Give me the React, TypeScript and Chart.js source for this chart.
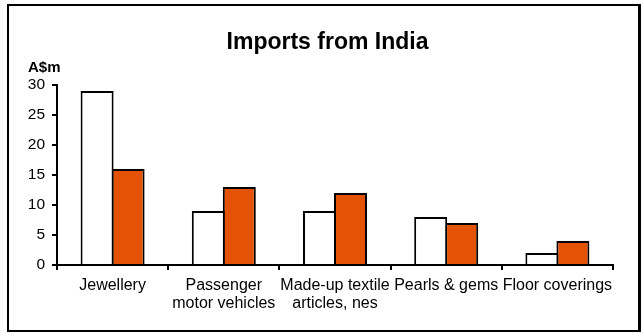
import React, { useEffect, useRef } from "react";
import { Chart, registerables } from "chart.js";

Chart.register(...registerables);

const categories: string[][] = [
  ["Jewellery"],
  ["Passenger", "motor vehicles"],
  ["Made-up textile", "articles, nes"],
  ["Pearls & gems"],
  ["Floor coverings"],
];
const seriesA = [29, 9, 9, 8, 2];
const seriesB = [16, 13, 12, 7, 4];
const yTicks = { min: 0, max: 30, step: 5 };
const titleText = "Imports from India";
const unitText = "A$m";

const FONT = '"Liberation Sans", Arial, sans-serif';

const textPlugin = {
  id: "textPlugin",
  afterDraw(chart: any) {
    const ctx = chart.ctx;
    ctx.save();
    ctx.fillStyle = "#000";
    ctx.textBaseline = "alphabetic";
    ctx.font = `bold 23px ${FONT}`;
    ctx.textAlign = "center";
    ctx.fillText(titleText, 327.5, 49);
    ctx.font = `bold 15px ${FONT}`;
    ctx.textAlign = "left";
    ctx.fillText(unitText, 28, 72);
    ctx.restore();
  },
};

export default function App() {
  const ref = useRef<HTMLCanvasElement | null>(null);
  useEffect(() => {
    if (!ref.current) return;
    const chart = new Chart(ref.current, {
      type: "bar",
      data: {
        labels: categories,
        datasets: [
          {
            data: seriesA,
            backgroundColor: "#ffffff",
            borderColor: "#000000",
            borderWidth: 2,
            categoryPercentage: 0.5576,
            barPercentage: 1.0645,
          },
          {
            data: seriesB,
            backgroundColor: "#E35205",
            borderColor: "#000000",
            borderWidth: 2,
            categoryPercentage: 0.5576,
            barPercentage: 1.0645,
          },
        ],
      },
      options: {
        responsive: false,
        animation: false,
        layout: { padding: { left: 0, right: 29, top: 85, bottom: 0 } },
        plugins: {
          legend: { display: false },
          title: { display: false },
          tooltip: { enabled: false },
        },
        scales: {
          x: {
            grid: {
              display: true,
              drawOnChartArea: false,
              drawTicks: true,
              tickLength: 5,
              color: "#000",
              lineWidth: 2,
              offset: true,
            },
            border: { display: true, color: "#000", width: 2 },
            ticks: {
              color: "#000",
              font: { family: FONT, size: 16, lineHeight: 1.125 },
              padding: 7,
              maxRotation: 0,
              minRotation: 0,
              autoSkip: false,
            },
            afterFit(scale: any) {
              scale.height = 68;
            },
          },
          y: {
            min: yTicks.min,
            max: yTicks.max,
            grid: {
              display: true,
              drawOnChartArea: false,
              drawTicks: true,
              tickLength: 5,
              color: "#000",
              lineWidth: 2,
            },
            border: { display: true, color: "#000", width: 2 },
            ticks: {
              stepSize: yTicks.step,
              color: "#000",
              font: { family: FONT, size: 15.5 },
              padding: 7,
            },
            afterFit(scale: any) {
              scale.width = 57;
            },
          },
        },
      },
      plugins: [textPlugin],
    });
    return () => chart.destroy();
  }, []);

  return (
    <div style={{ position: "fixed", left: 0, top: 0, width: 642, height: 333, background: "#fff" }}>
      <canvas
        ref={ref}
        width={642}
        height={333}
        style={{ position: "absolute", left: 0, top: 0, width: 642, height: 333 }}
      />
      <div
        style={{
          position: "absolute",
          left: 7,
          top: 4,
          width: 634,
          height: 328,
          boxSizing: "border-box",
          borderTop: "2px solid #000",
          borderLeft: "2px solid #000",
          borderBottom: "2px solid #000",
          borderRight: "3px solid #000",
          pointerEvents: "none",
        }}
      />
    </div>
  );
}
